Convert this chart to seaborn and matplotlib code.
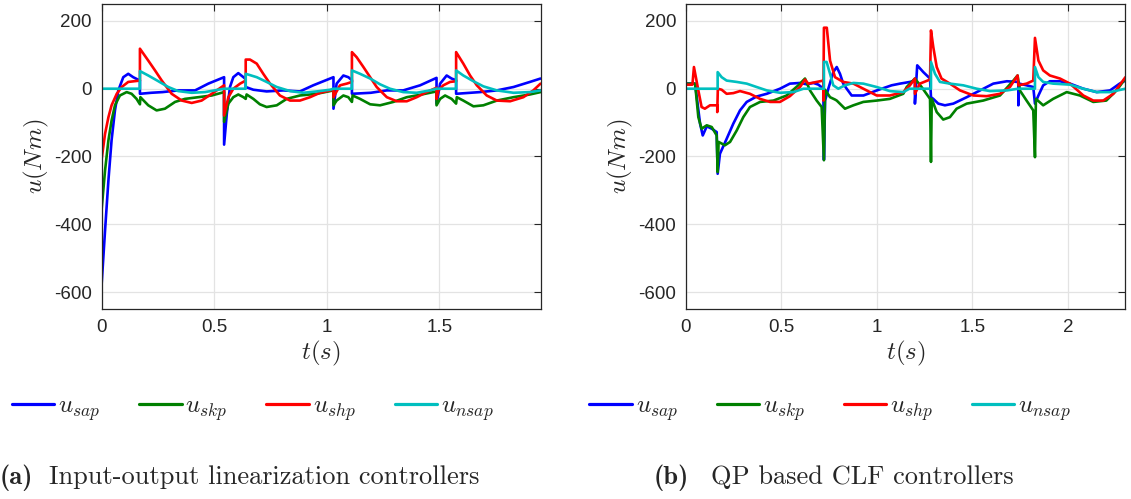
"""
Control torques of the four joints, two controller families side by side
"""

import pandas as pd
import matplotlib
matplotlib.use("Agg")
import matplotlib.pyplot as plt
from matplotlib.lines import Line2D
import seaborn as sns

# (t [s], u [Nm]), panel (a): input-output linearization
a_sap = [(0, -575), (0.015, -418), (0.03, -270), (0.044, -152), (0.059, -64), (0.074, -5),
         (0.096, 34), (0.118, 44), (0.14, 34), (0.17, 24), (0.17, -15), (0.22, -12), (0.27, -10),
         (0.34, -5), (0.415, -5), (0.474, 15), (0.544, 34), (0.544, -165), (0.556, -74),
         (0.570, 5), (0.585, 34), (0.607, 46), (0.63, 34), (0.64, 28), (0.64, 5), (0.674, -3),
         (0.733, -8), (0.807, -5), (0.881, -8), (0.94, 10), (1.03, 34), (1.03, -59),
         (1.044, 15), (1.074, 39), (1.096, 34), (1.112, 25), (1.112, -15), (1.196, -12),
         (1.267, -5), (1.34, -5), (1.415, 10), (1.488, 32), (1.488, -44), (1.504, 15),
         (1.533, 39), (1.555, 30), (1.575, 25), (1.575, -15), (1.681, -10), (1.756, -5),
         (1.83, 5), (1.903, 20), (1.95, 30)]
a_skp = [(0, -354), (0.015, -241), (0.03, -152), (0.044, -94), (0.059, -49), (0.081, -20),
         (0.111, -10), (0.133, -15), (0.155, -30), (0.17, -46), (0.172, -25), (0.207, -49),
         (0.244, -64), (0.281, -59), (0.326, -39), (0.37, -30), (0.43, -25), (0.489, -20),
         (0.544, -10), (0.544, -98), (0.563, -44), (0.585, -25), (0.607, -17), (0.63, -25),
         (0.64, -30), (0.644, -17), (0.674, -30), (0.703, -46), (0.733, -54), (0.778, -49),
         (0.822, -30), (0.881, -20), (0.956, -15), (1.03, -5), (1.03, -49), (1.044, -35),
         (1.074, -20), (1.096, -25), (1.112, -39), (1.115, -20), (1.148, -30), (1.193, -46),
         (1.237, -49), (1.296, -39), (1.356, -25), (1.415, -18), (1.488, -8), (1.488, -49),
         (1.504, -30), (1.526, -20), (1.555, -30), (1.575, -44), (1.578, -25), (1.607, -35),
         (1.652, -52), (1.696, -49), (1.756, -35), (1.83, -25), (1.903, -17), (1.95, -10)]
a_shp = [(0, -207), (0.015, -133), (0.03, -84), (0.044, -49), (0.067, -15), (0.089, 5),
         (0.118, 20), (0.17, 24), (0.17, 118), (0.207, 83), (0.237, 54), (0.267, 24),
         (0.311, -15), (0.356, -35), (0.4, -42), (0.444, -35), (0.489, -15), (0.544, 10),
         (0.544, -79), (0.563, -25), (0.585, 0), (0.615, 15), (0.64, 24), (0.64, 86),
         (0.659, 86), (0.689, 74), (0.718, 44), (0.748, 15), (0.792, -20), (0.837, -35),
         (0.881, -35), (0.926, -25), (0.97, -12), (1.03, -3), (1.03, -25), (1.059, 10),
         (1.089, 15), (1.112, 20), (1.112, 108), (1.133, 93), (1.163, 64), (1.193, 34),
         (1.222, 5), (1.267, -25), (1.311, -37), (1.356, -37), (1.4, -25), (1.444, -10),
         (1.488, 3), (1.488, -30), (1.496, -5), (1.518, 10), (1.548, 20), (1.575, 22),
         (1.575, 108), (1.607, 74), (1.637, 39), (1.667, 10), (1.711, -20), (1.756, -35),
         (1.815, -37), (1.874, -25), (1.918, -5), (1.95, 15)]
a_nsap = [(0, 0), (0.17, 0), (0.17, 52), (0.207, 39), (0.252, 22), (0.296, 5), (0.34, -7),
          (0.4, -12), (0.459, -10), (0.518, -3), (0.544, 0), (0.64, 0), (0.64, 44), (0.689, 34),
          (0.733, 20), (0.778, 5), (0.837, -7), (0.896, -12), (0.956, -8), (1.015, -3),
          (1.03, 0), (1.112, 0), (1.112, 54), (1.148, 44), (1.193, 30), (1.237, 13), (1.281, 0),
          (1.34, -10), (1.4, -12), (1.459, -5), (1.488, 0), (1.575, 0), (1.575, 54),
          (1.607, 39), (1.652, 22), (1.696, 7), (1.756, -5), (1.83, -12), (1.903, -10),
          (1.95, -5)]

# panel (b): QP based CLF
b_sap = [(0, 15), (0.049, 15), (0.075, -103), (0.089, -138), (0.11, -111), (0.136, -118),
         (0.162, -128), (0.167, -251), (0.179, -192), (0.214, -148), (0.249, -103),
         (0.284, -64), (0.319, -39), (0.371, -23), (0.424, -15), (0.493, 0), (0.545, 15),
         (0.598, 17), (0.633, 13), (0.668, 17), (0.694, 12), (0.72, 0), (0.723, -210),
         (0.729, -35), (0.746, 0), (0.772, 49), (0.79, 64), (0.807, 44), (0.824, 15),
         (0.842, 0), (0.868, -20), (0.93, -20), (1.0, -5), (1.077, 10), (1.121, 15),
         (1.173, 20), (1.199, 24), (1.199, -44), (1.211, 69), (1.243, 49), (1.278, 30),
         (1.283, -25), (1.295, -30), (1.321, -44), (1.356, -49), (1.4, -44), (1.47, -25),
         (1.54, -5), (1.609, 15), (1.68, 22), (1.74, 20), (1.74, -49), (1.745, 15),
         (1.783, 10), (1.818, 5), (1.827, -44), (1.845, -20), (1.87, 10), (1.905, 22),
         (1.958, 22), (2.01, 15), (2.08, 0), (2.15, -10), (2.22, -5), (2.27, 15), (2.3, 24)]
b_skp = [(0, 15), (0.049, 15), (0.066, -84), (0.083, -118), (0.11, -108), (0.136, -113),
         (0.162, -138), (0.167, -246), (0.172, -157), (0.205, -167), (0.232, -157),
         (0.267, -123), (0.301, -84), (0.336, -54), (0.389, -39), (0.459, -35), (0.528, -20),
         (0.589, 10), (0.624, 30), (0.65, -5), (0.685, -35), (0.711, -54), (0.723, -211),
         (0.729, -3), (0.755, -25), (0.781, -32), (0.79, -35), (0.833, -59), (0.877, -49),
         (0.929, -39), (0.999, -35), (1.068, -30), (1.138, -15), (1.156, 5), (1.199, 30),
         (1.234, 5), (1.278, -30), (1.283, -216), (1.287, -30), (1.313, -69), (1.347, -91),
         (1.382, -84), (1.417, -59), (1.47, -44), (1.556, -35), (1.644, -20), (1.714, 24),
         (1.736, 39), (1.748, -5), (1.783, -35), (1.818, -64), (1.827, -202), (1.832, -30),
         (1.87, -49), (1.922, -30), (1.993, -10), (2.062, -20), (2.132, -39), (2.2, -35),
         (2.254, -5), (2.3, 30)]
b_shp = [(0, 12), (0.035, 12), (0.043, 64), (0.066, -5), (0.083, -54), (0.1, -59),
         (0.127, -49), (0.165, -49), (0.165, -69), (0.168, 0), (0.188, -3), (0.214, -15),
         (0.249, -13), (0.284, -7), (0.336, -15), (0.389, -30), (0.441, -39), (0.493, -39),
         (0.545, -22), (0.598, 5), (0.624, 27), (0.641, 15), (0.685, 20), (0.72, 24),
         (0.72, -35), (0.723, 180), (0.738, 180), (0.755, 83), (0.781, 34), (0.824, 20),
         (0.877, 15), (0.929, 0), (0.999, -20), (1.068, -20), (1.138, -10), (1.173, 10),
         (1.199, 30), (1.199, -15), (1.225, 15), (1.278, 27), (1.283, 172), (1.295, 123),
         (1.313, 64), (1.338, 30), (1.382, 15), (1.435, -5), (1.505, -20), (1.574, -22),
         (1.644, -15), (1.696, 5), (1.736, 39), (1.74, 10), (1.783, 15), (1.818, 24),
         (1.827, 150), (1.845, 83), (1.87, 54), (1.905, 39), (1.958, 30), (2.01, 15),
         (2.08, -20), (2.132, -35), (2.184, -35), (2.237, -15), (2.3, 34)]
b_nsap = [(0, 0), (0.167, 0), (0.167, 49), (0.188, 34), (0.214, 24), (0.267, 20),
          (0.319, 15), (0.371, 5), (0.424, -5), (0.493, -12), (0.563, -10), (0.616, 0),
          (0.723, 0), (0.723, 79), (0.737, 79), (0.755, 44), (0.772, 10), (0.798, 0),
          (0.833, 10), (0.877, 17), (0.929, 15), (0.999, 5), (1.068, -7), (1.138, -10),
          (1.17, 0), (1.283, 0), (1.283, 79), (1.304, 44), (1.33, 20), (1.382, 15),
          (1.452, 10), (1.522, 0), (1.592, -7), (1.68, -5), (1.74, 0), (1.827, 0),
          (1.827, 64), (1.845, 34), (1.87, 20), (1.922, 15), (2.01, 12), (2.08, 0),
          (2.15, -10), (2.22, -10), (2.3, 0)]

SIGNALS = ['sap', 'skp', 'shp', 'nsap']
LABELS = [r'$u_{sap}$', r'$u_{skp}$', r'$u_{shp}$', r'$u_{nsap}$']
COLORS = {'sap': '#0000ff', 'skp': '#008000', 'shp': '#ff0000', 'nsap': '#00bfbf'}

X_TICKS_A = [0, 0.5, 1, 1.5]
X_TICKS_B = [0, 0.5, 1, 1.5, 2]
Y_TICKS = [-600, -400, -200, 0, 200]

CAPTION_A = ('(a)', 'Input-output linearization controllers')
CAPTION_B = ('(b)', 'QP based CLF controllers')


def to_frame(series):
    rows = []
    for name, pts in zip(SIGNALS, series):
        for t, u in pts:
            rows.append({'t': t, 'u': u, 'signal': name})
    return pd.DataFrame(rows)


def style_axes(ax, xmax, xticks):
    ax.set_xlim(0, xmax)
    ax.set_ylim(-650, 250)
    ax.set_xticks(xticks)
    ax.set_xticklabels([f'{v:g}' for v in xticks])
    ax.set_yticks(Y_TICKS)
    ax.set_yticklabels([str(v) for v in Y_TICKS])
    ax.grid(True, color='#e3e3e3', linewidth=0.9)
    ax.set_axisbelow(True)
    ax.tick_params(direction='in', length=5, width=0.8, top=True, right=True,
                   labelsize=13.5, pad=7, colors='#262626')
    for s in ax.spines.values():
        s.set_color('#262626')
        s.set_linewidth(0.9)
    ax.set_xlabel(r'$t(s)$', fontsize=18, labelpad=2)
    ax.set_ylabel(r'$u(Nm)$', fontsize=18, labelpad=2)


sns.set_style('white')
plt.rcParams['font.family'] = ['Liberation Sans', 'DejaVu Sans']
plt.rcParams['mathtext.fontset'] = 'cm'
plt.rcParams['axes.unicode_minus'] = False

fig = plt.figure(figsize=(11.31, 4.99), dpi=100)
ax_a = fig.add_axes([0.0899, 0.3808, 0.3882, 0.6112])
ax_b = fig.add_axes([0.6063, 0.3808, 0.3884, 0.6112])

panels = [
    (ax_a, to_frame([a_sap, a_skp, a_shp, a_nsap]), 1.951, X_TICKS_A),
    (ax_b, to_frame([b_sap, b_skp, b_shp, b_nsap]), 2.298, X_TICKS_B),
]
for ax, df, xmax, xt in panels:
    sns.lineplot(data=df, x='t', y='u', hue='signal', hue_order=SIGNALS,
                 palette=COLORS, estimator=None, sort=False, linewidth=1.9,
                 legend=False, ax=ax)
    style_axes(ax, xmax, xt)

handles = [Line2D([], [], color=COLORS[s], linewidth=2.3) for s in SIGNALS]
for cx in (0.2235, 0.734):
    fig.legend(handles, LABELS, loc='center', bbox_to_anchor=(cx, 0.182), ncol=4,
               frameon=False, fontsize=18, handlelength=1.7, handletextpad=0.15,
               columnspacing=1.55)

# captions, bold tag + roman text
for (tag, text), x0, x1 in ((CAPTION_A, 0.0, 0.043), (CAPTION_B, 0.578, 0.6285)):
    fig.text(x0, 0.03, tag, fontfamily='cmb10', fontsize=19, ha='left', va='baseline')
    fig.text(x1, 0.03, text, fontfamily='cmr10', fontsize=19, ha='left', va='baseline')

fig.savefig('out.png', dpi=100, facecolor='white')
